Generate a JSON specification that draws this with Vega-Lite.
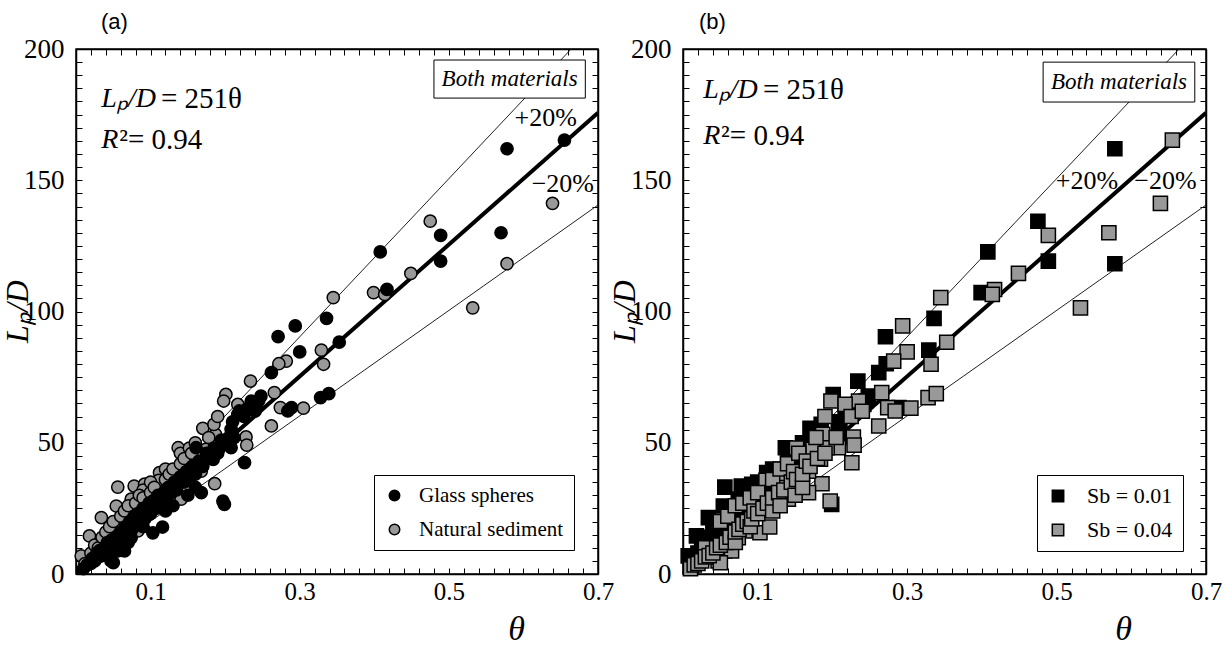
{
  "$schema": "https://vega.github.io/schema/vega-lite/v6.json",
  "background": "white",
  "padding": {"left": 0, "top": 10, "right": 0, "bottom": 0},
  "bounds": "flush",
  "spacing": 85,
  "config": {
    "view": {"stroke": "black", "strokeWidth": 1.5},
    "axis": {"domainColor": "black", "domainWidth": 1.5, "tickColor": "black", "tickWidth": 1, "tickSize": -6, "labelColor": "black", "titleColor": "black", "grid": false}
  },
  "datasets": {
    "pts": [
      {"t":0.578,"L":162.0,"m":"Glass spheres","s":"Sb = 0.01"},
      {"t":0.655,"L":165.3,"m":"Glass spheres","s":"Sb = 0.04"},
      {"t":0.639,"L":141.2,"m":"Natural sediment","s":"Sb = 0.04"},
      {"t":0.475,"L":134.4,"m":"Natural sediment","s":"Sb = 0.01"},
      {"t":0.489,"L":129.0,"m":"Glass spheres","s":"Sb = 0.04"},
      {"t":0.570,"L":130.0,"m":"Glass spheres","s":"Sb = 0.04"},
      {"t":0.489,"L":119.2,"m":"Glass spheres","s":"Sb = 0.01"},
      {"t":0.449,"L":114.5,"m":"Natural sediment","s":"Sb = 0.04"},
      {"t":0.578,"L":118.2,"m":"Natural sediment","s":"Sb = 0.01"},
      {"t":0.532,"L":101.4,"m":"Natural sediment","s":"Sb = 0.04"},
      {"t":0.408,"L":122.7,"m":"Glass spheres","s":"Sb = 0.01"},
      {"t":0.399,"L":107.2,"m":"Natural sediment","s":"Sb = 0.01"},
      {"t":0.417,"L":108.4,"m":"Glass spheres","s":"Sb = 0.04"},
      {"t":0.414,"L":106.5,"m":"Natural sediment","s":"Sb = 0.04"},
      {"t":0.345,"L":105.3,"m":"Natural sediment","s":"Sb = 0.04"},
      {"t":0.336,"L":97.4,"m":"Glass spheres","s":"Sb = 0.01"},
      {"t":0.294,"L":94.5,"m":"Glass spheres","s":"Sb = 0.04"},
      {"t":0.271,"L":90.4,"m":"Glass spheres","s":"Sb = 0.01"},
      {"t":0.300,"L":84.6,"m":"Glass spheres","s":"Sb = 0.04"},
      {"t":0.329,"L":85.3,"m":"Natural sediment","s":"Sb = 0.01"},
      {"t":0.353,"L":88.3,"m":"Glass spheres","s":"Sb = 0.04"},
      {"t":0.332,"L":79.9,"m":"Natural sediment","s":"Sb = 0.04"},
      {"t":0.282,"L":81.1,"m":"Natural sediment","s":"Sb = 0.04"},
      {"t":0.272,"L":80.1,"m":"Natural sediment","s":"Sb = 0.01"},
      {"t":0.262,"L":76.7,"m":"Glass spheres","s":"Sb = 0.01"},
      {"t":0.234,"L":73.5,"m":"Natural sediment","s":"Sb = 0.01"},
      {"t":0.266,"L":69.1,"m":"Natural sediment","s":"Sb = 0.04"},
      {"t":0.248,"L":67.8,"m":"Glass spheres","s":"Sb = 0.01"},
      {"t":0.201,"L":68.4,"m":"Natural sediment","s":"Sb = 0.01"},
      {"t":0.198,"L":65.9,"m":"Natural sediment","s":"Sb = 0.04"},
      {"t":0.235,"L":65.9,"m":"Glass spheres","s":"Sb = 0.04"},
      {"t":0.242,"L":64.6,"m":"Glass spheres","s":"Sb = 0.01"},
      {"t":0.217,"L":64.6,"m":"Natural sediment","s":"Sb = 0.04"},
      {"t":0.219,"L":62.1,"m":"Glass spheres","s":"Sb = 0.01"},
      {"t":0.274,"L":63.4,"m":"Natural sediment","s":"Sb = 0.04"},
      {"t":0.289,"L":63.4,"m":"Glass spheres","s":"Sb = 0.01"},
      {"t":0.284,"L":62.1,"m":"Glass spheres","s":"Sb = 0.04"},
      {"t":0.305,"L":63.2,"m":"Natural sediment","s":"Sb = 0.04"},
      {"t":0.328,"L":67.2,"m":"Glass spheres","s":"Sb = 0.04"},
      {"t":0.339,"L":68.7,"m":"Glass spheres","s":"Sb = 0.04"},
      {"t":0.262,"L":56.4,"m":"Natural sediment","s":"Sb = 0.04"},
      {"t":0.170,"L":55.5,"m":"Natural sediment","s":"Sb = 0.01"},
      {"t":0.187,"L":53.2,"m":"Natural sediment","s":"Sb = 0.04"},
      {"t":0.208,"L":55.1,"m":"Glass spheres","s":"Sb = 0.01"},
      {"t":0.212,"L":51.9,"m":"Glass spheres","s":"Sb = 0.01"},
      {"t":0.228,"L":52.2,"m":"Natural sediment","s":"Sb = 0.04"},
      {"t":0.229,"L":49.1,"m":"Natural sediment","s":"Sb = 0.04"},
      {"t":0.208,"L":48.1,"m":"Glass spheres","s":"Sb = 0.04"},
      {"t":0.226,"L":42.4,"m":"Glass spheres","s":"Sb = 0.04"},
      {"t":0.199,"L":26.5,"m":"Glass spheres","s":"Sb = 0.01"},
      {"t":0.197,"L":27.8,"m":"Glass spheres","s":"Sb = 0.04"},
      {"t":0.186,"L":34.4,"m":"Natural sediment","s":"Sb = 0.04"},
      {"t":0.168,"L":31.0,"m":"Glass spheres","s":"Sb = 0.04"},
      {"t":0.174,"L":47.5,"m":"Natural sediment","s":"Sb = 0.04"},
      {"t":0.137,"L":48.1,"m":"Natural sediment","s":"Sb = 0.01"},
      {"t":0.217,"L":60.8,"m":"Glass spheres","s":"Sb = 0.01"},
      {"t":0.056,"L":33.1,"m":"Natural sediment","s":"Sb = 0.01"},
      {"t":0.034,"L":21.5,"m":"Natural sediment","s":"Sb = 0.01"},
      {"t":0.054,"L":25.9,"m":"Natural sediment","s":"Sb = 0.01"},
      {"t":0.078,"L":33.5,"m":"Natural sediment","s":"Sb = 0.01"},
      {"t":0.092,"L":34.2,"m":"Natural sediment","s":"Sb = 0.01"},
      {"t":0.074,"L":28.5,"m":"Natural sediment","s":"Sb = 0.01"},
      {"t":0.112,"L":38.6,"m":"Natural sediment","s":"Sb = 0.01"},
      {"t":0.141,"L":28.5,"m":"Natural sediment","s":"Sb = 0.04"},
      {"t":0.103,"L":15.7,"m":"Glass spheres","s":"Sb = 0.04"},
      {"t":0.116,"L":17.9,"m":"Glass spheres","s":"Sb = 0.04"},
      {"t":0.018,"L":14.5,"m":"Natural sediment","s":"Sb = 0.01"},
      {"t":0.007,"L":6.9,"m":"Natural sediment","s":"Sb = 0.01"},
      {"t":0.047,"L":5.0,"m":"Glass spheres","s":"Sb = 0.04"},
      {"t":0.056,"L":8.8,"m":"Glass spheres","s":"Sb = 0.04"},
      {"t":0.083,"L":16.4,"m":"Natural sediment","s":"Sb = 0.04"},
      {"t":0.161,"L":48.1,"m":"Glass spheres","s":"Sb = 0.01"},
      {"t":0.184,"L":43.7,"m":"Glass spheres","s":"Sb = 0.04"},
      {"t":0.150,"L":44.3,"m":"Natural sediment","s":"Sb = 0.01"},
      {"t":0.168,"L":39.2,"m":"Natural sediment","s":"Sb = 0.04"},
      {"t":0.111,"L":35.7,"m":"Natural sediment","s":"Sb = 0.04"},
      {"t":0.129,"L":36.1,"m":"Natural sediment","s":"Sb = 0.04"},
      {"t":0.130,"L":32.9,"m":"Natural sediment","s":"Sb = 0.04"},
      {"t":0.193,"L":48.1,"m":"Glass spheres","s":"Sb = 0.04"},
      {"t":0.074,"L":13.8,"m":"Glass spheres","s":"Sb = 0.04"},
      {"t":0.065,"L":8.8,"m":"Glass spheres","s":"Sb = 0.04"},
      {"t":0.050,"L":4.3,"m":"Glass spheres","s":"Sb = 0.04"},
      {"t":0.090,"L":32,"m":"Natural sediment","s":"Sb = 0.01"},
      {"t":0.100,"L":35,"m":"Natural sediment","s":"Sb = 0.01"},
      {"t":0.120,"L":40,"m":"Natural sediment","s":"Sb = 0.01"},
      {"t":0.140,"L":46,"m":"Natural sediment","s":"Sb = 0.01"},
      {"t":0.152,"L":48,"m":"Natural sediment","s":"Sb = 0.04"},
      {"t":0.012,"L":4,"m":"Natural sediment","s":"Sb = 0.01"},
      {"t":0.020,"L":8,"m":"Natural sediment","s":"Sb = 0.01"},
      {"t":0.025,"L":11,"m":"Natural sediment","s":"Sb = 0.01"},
      {"t":0.030,"L":10,"m":"Natural sediment","s":"Sb = 0.04"},
      {"t":0.035,"L":14,"m":"Natural sediment","s":"Sb = 0.01"},
      {"t":0.040,"L":16,"m":"Natural sediment","s":"Sb = 0.01"},
      {"t":0.045,"L":18,"m":"Natural sediment","s":"Sb = 0.01"},
      {"t":0.050,"L":20,"m":"Natural sediment","s":"Sb = 0.04"},
      {"t":0.060,"L":22,"m":"Natural sediment","s":"Sb = 0.04"},
      {"t":0.065,"L":24,"m":"Natural sediment","s":"Sb = 0.01"},
      {"t":0.070,"L":26,"m":"Natural sediment","s":"Sb = 0.04"},
      {"t":0.080,"L":27,"m":"Natural sediment","s":"Sb = 0.04"},
      {"t":0.085,"L":30,"m":"Natural sediment","s":"Sb = 0.01"},
      {"t":0.090,"L":29,"m":"Natural sediment","s":"Sb = 0.04"},
      {"t":0.100,"L":31,"m":"Natural sediment","s":"Sb = 0.04"},
      {"t":0.105,"L":33,"m":"Natural sediment","s":"Sb = 0.01"},
      {"t":0.120,"L":36,"m":"Natural sediment","s":"Sb = 0.04"},
      {"t":0.125,"L":38,"m":"Natural sediment","s":"Sb = 0.01"},
      {"t":0.130,"L":40,"m":"Natural sediment","s":"Sb = 0.04"},
      {"t":0.140,"L":42,"m":"Natural sediment","s":"Sb = 0.04"},
      {"t":0.145,"L":44,"m":"Natural sediment","s":"Sb = 0.01"},
      {"t":0.155,"L":46,"m":"Natural sediment","s":"Sb = 0.04"},
      {"t":0.160,"L":50,"m":"Natural sediment","s":"Sb = 0.01"},
      {"t":0.178,"L":52,"m":"Natural sediment","s":"Sb = 0.04"},
      {"t":0.185,"L":57,"m":"Natural sediment","s":"Sb = 0.01"},
      {"t":0.190,"L":60,"m":"Natural sediment","s":"Sb = 0.04"},
      {"t":0.010,"L":2,"m":"Glass spheres","s":"Sb = 0.04"},
      {"t":0.015,"L":3.5,"m":"Glass spheres","s":"Sb = 0.04"},
      {"t":0.020,"L":4,"m":"Glass spheres","s":"Sb = 0.04"},
      {"t":0.022,"L":6,"m":"Glass spheres","s":"Sb = 0.01"},
      {"t":0.025,"L":5,"m":"Glass spheres","s":"Sb = 0.04"},
      {"t":0.028,"L":8,"m":"Glass spheres","s":"Sb = 0.01"},
      {"t":0.030,"L":6.5,"m":"Glass spheres","s":"Sb = 0.04"},
      {"t":0.032,"L":9,"m":"Glass spheres","s":"Sb = 0.01"},
      {"t":0.035,"L":7,"m":"Glass spheres","s":"Sb = 0.04"},
      {"t":0.038,"L":10,"m":"Glass spheres","s":"Sb = 0.01"},
      {"t":0.040,"L":8,"m":"Glass spheres","s":"Sb = 0.04"},
      {"t":0.042,"L":12,"m":"Glass spheres","s":"Sb = 0.01"},
      {"t":0.045,"L":10,"m":"Glass spheres","s":"Sb = 0.04"},
      {"t":0.048,"L":13,"m":"Glass spheres","s":"Sb = 0.01"},
      {"t":0.050,"L":11,"m":"Glass spheres","s":"Sb = 0.04"},
      {"t":0.055,"L":14,"m":"Glass spheres","s":"Sb = 0.01"},
      {"t":0.058,"L":12,"m":"Glass spheres","s":"Sb = 0.04"},
      {"t":0.060,"L":16,"m":"Glass spheres","s":"Sb = 0.01"},
      {"t":0.063,"L":14,"m":"Glass spheres","s":"Sb = 0.04"},
      {"t":0.066,"L":18,"m":"Glass spheres","s":"Sb = 0.01"},
      {"t":0.070,"L":12,"m":"Glass spheres","s":"Sb = 0.04"},
      {"t":0.070,"L":16,"m":"Glass spheres","s":"Sb = 0.04"},
      {"t":0.072,"L":20,"m":"Glass spheres","s":"Sb = 0.01"},
      {"t":0.075,"L":17,"m":"Glass spheres","s":"Sb = 0.04"},
      {"t":0.078,"L":22,"m":"Glass spheres","s":"Sb = 0.01"},
      {"t":0.080,"L":19,"m":"Glass spheres","s":"Sb = 0.04"},
      {"t":0.083,"L":23,"m":"Glass spheres","s":"Sb = 0.01"},
      {"t":0.086,"L":20,"m":"Glass spheres","s":"Sb = 0.04"},
      {"t":0.090,"L":18,"m":"Glass spheres","s":"Sb = 0.04"},
      {"t":0.090,"L":25,"m":"Glass spheres","s":"Sb = 0.01"},
      {"t":0.092,"L":21,"m":"Glass spheres","s":"Sb = 0.04"},
      {"t":0.095,"L":24,"m":"Glass spheres","s":"Sb = 0.04"},
      {"t":0.098,"L":27,"m":"Glass spheres","s":"Sb = 0.01"},
      {"t":0.100,"L":23,"m":"Glass spheres","s":"Sb = 0.04"},
      {"t":0.104,"L":28,"m":"Glass spheres","s":"Sb = 0.01"},
      {"t":0.107,"L":25,"m":"Glass spheres","s":"Sb = 0.04"},
      {"t":0.110,"L":30,"m":"Glass spheres","s":"Sb = 0.01"},
      {"t":0.113,"L":27,"m":"Glass spheres","s":"Sb = 0.04"},
      {"t":0.118,"L":31,"m":"Glass spheres","s":"Sb = 0.01"},
      {"t":0.120,"L":24,"m":"Glass spheres","s":"Sb = 0.04"},
      {"t":0.120,"L":29,"m":"Glass spheres","s":"Sb = 0.04"},
      {"t":0.124,"L":33,"m":"Glass spheres","s":"Sb = 0.01"},
      {"t":0.128,"L":31,"m":"Glass spheres","s":"Sb = 0.04"},
      {"t":0.130,"L":26,"m":"Glass spheres","s":"Sb = 0.04"},
      {"t":0.132,"L":35,"m":"Glass spheres","s":"Sb = 0.01"},
      {"t":0.135,"L":32,"m":"Glass spheres","s":"Sb = 0.04"},
      {"t":0.140,"L":37,"m":"Glass spheres","s":"Sb = 0.01"},
      {"t":0.145,"L":35,"m":"Glass spheres","s":"Sb = 0.04"},
      {"t":0.148,"L":39,"m":"Glass spheres","s":"Sb = 0.04"},
      {"t":0.150,"L":30,"m":"Glass spheres","s":"Sb = 0.04"},
      {"t":0.152,"L":36,"m":"Glass spheres","s":"Sb = 0.04"},
      {"t":0.156,"L":41,"m":"Glass spheres","s":"Sb = 0.01"},
      {"t":0.160,"L":33,"m":"Glass spheres","s":"Sb = 0.04"},
      {"t":0.160,"L":38,"m":"Glass spheres","s":"Sb = 0.04"},
      {"t":0.165,"L":43,"m":"Glass spheres","s":"Sb = 0.04"},
      {"t":0.170,"L":41,"m":"Glass spheres","s":"Sb = 0.04"},
      {"t":0.175,"L":46,"m":"Glass spheres","s":"Sb = 0.01"},
      {"t":0.180,"L":44,"m":"Glass spheres","s":"Sb = 0.04"},
      {"t":0.185,"L":48,"m":"Glass spheres","s":"Sb = 0.01"},
      {"t":0.190,"L":46,"m":"Glass spheres","s":"Sb = 0.04"},
      {"t":0.195,"L":51,"m":"Glass spheres","s":"Sb = 0.01"},
      {"t":0.205,"L":52,"m":"Glass spheres","s":"Sb = 0.04"},
      {"t":0.210,"L":58,"m":"Glass spheres","s":"Sb = 0.01"},
      {"t":0.225,"L":60,"m":"Glass spheres","s":"Sb = 0.04"},
      {"t":0.230,"L":63,"m":"Glass spheres","s":"Sb = 0.01"},
      {"t":0.240,"L":62,"m":"Glass spheres","s":"Sb = 0.04"},
      {"t":0.245,"L":66,"m":"Glass spheres","s":"Sb = 0.01"}
    ],
    "lines": [
      {"k":"fit","t":0,"L":0},{"k":"fit","t":0.7,"L":175.7},
      {"k":"+20%","t":0,"L":0},{"k":"+20%","t":0.7,"L":210.84},
      {"k":"-20%","t":0,"L":0},{"k":"-20%","t":0.7,"L":140.56}
    ]
  },
  "resolve": {"scale": {"x": "independent", "y": "independent", "fill": "independent"}, "legend": {"fill": "independent"}},
  "hconcat": [
    {
      "width": 522, "height": 525,
      "title": {"text": "(a)", "anchor": "start", "frame": "group", "dx": 25, "offset": 1, "font": "Liberation Sans", "fontSize": 22, "fontWeight": "normal", "color": "black"},
      "resolve": {"axis": {"x": "independent", "y": "independent"}},
      "layer": [
        {
          "data": {"name": "lines"},
          "transform": [{"filter": "datum.k != 'fit'"}],
          "mark": {"type": "line", "clip": true, "color": "#222222", "strokeWidth": 1},
          "encoding": {
            "x": {"field": "t", "type": "quantitative", "scale": {"domain": [0, 0.7], "nice": false, "zero": false},
              "axis": {"orient": "top", "values": [0,0.02,0.04,0.06,0.08,0.1,0.12,0.14,0.16,0.18,0.2,0.22,0.24,0.26,0.28,0.3,0.32,0.34,0.36,0.38,0.4,0.42,0.44,0.46,0.48,0.5,0.52,0.54,0.56,0.58,0.6,0.62,0.64,0.66,0.68,0.7], "labels": false, "title": null}},
            "y": {"field": "L", "type": "quantitative", "scale": {"domain": [0, 200], "nice": false, "zero": false},
              "axis": {"orient": "right", "values": [0,5,10,15,20,25,30,35,40,45,50,55,60,65,70,75,80,85,90,95,100,105,110,115,120,125,130,135,140,145,150,155,160,165,170,175,180,185,190,195,200], "labels": false, "title": null}},
            "detail": {"field": "k"}
          }
        },
        {
          "data": {"name": "lines"},
          "transform": [{"filter": "datum.k == 'fit'"}],
          "mark": {"type": "line", "clip": true, "color": "black", "strokeWidth": 4},
          "encoding": {
            "x": {"field": "t", "type": "quantitative", "scale": {"domain": [0, 0.7], "nice": false, "zero": false}, "axis": null},
            "y": {"field": "L", "type": "quantitative", "scale": {"domain": [0, 200], "nice": false, "zero": false}, "axis": null}
          }
        },
        {
          "data": {"name": "pts"},
          "mark": {"type": "point", "shape": "circle", "filled": true, "size": 150, "stroke": "black", "strokeWidth": 1.5, "opacity": 1},
          "encoding": {
            "x": {"field": "t", "type": "quantitative", "scale": {"domain": [0, 0.7], "nice": false, "zero": false},
              "axis": {"orient": "bottom", "values": [0,0.02,0.04,0.06,0.08,0.1,0.12,0.14,0.16,0.18,0.2,0.22,0.24,0.26,0.28,0.3,0.32,0.34,0.36,0.38,0.4,0.42,0.44,0.46,0.48,0.5,0.52,0.54,0.56,0.58,0.6,0.62,0.64,0.66,0.68,0.7],
                "labelExpr": "round(datum.value*50) % 10 == 5 ? format(datum.value, '.1f') : ''", "labelFont": "Liberation Serif", "labelFontSize": 25, "labelPadding": 11, "labelFlush": false, "labelOverlap": false,
                "title": "θ", "titleFont": "Liberation Serif", "titleFontStyle": "italic", "titleFontWeight": "normal", "titleFontSize": 34, "titleX": 440, "titleY": 65, "titleAlign": "center", "titleBaseline": "alphabetic"}},
            "y": {"field": "L", "type": "quantitative", "scale": {"domain": [0, 200], "nice": false, "zero": false},
              "axis": {"orient": "left", "values": [0,5,10,15,20,25,30,35,40,45,50,55,60,65,70,75,80,85,90,95,100,105,110,115,120,125,130,135,140,145,150,155,160,165,170,175,180,185,190,195,200],
                "labelExpr": "datum.value % 50 == 0 ? datum.value : ''", "labelFont": "Liberation Serif", "labelFontSize": 27, "labelPadding": 18, "labelFlush": false, "labelOverlap": false,
                "title": "Lₚ/D", "titleFont": "Liberation Serif", "titleFontStyle": "italic", "titleFontWeight": "normal", "titleFontSize": 32, "titleX": -49, "titleY": 262, "titleAngle": -90, "titleAlign": "center", "titleBaseline": "alphabetic"}},
            "fill": {"field": "m", "type": "nominal", "scale": {"domain": ["Glass spheres", "Natural sediment"], "range": ["#000000", "#999999"]},
              "legend": {"orient": "bottom-right", "offset": 24, "title": null, "strokeColor": "black", "fillColor": "white", "padding": 10, "rowPadding": 12, "labelFont": "Liberation Serif", "labelFontSize": 21, "labelColor": "black", "labelOffset": 14, "symbolType": "circle", "symbolSize": 110, "symbolStrokeColor": "black", "symbolStrokeWidth": 1.5}},
            "order": {"field": "m", "sort": "descending"}
          }
        },
        {
          "data": {"values": [{"t1": 0.48, "t2": 0.683, "L1": 181.3, "L2": 195.8}]},
          "mark": {"type": "rect", "fill": "white", "stroke": "black", "strokeWidth": 1},
          "encoding": {
            "x": {"field": "t1", "type": "quantitative", "scale": {"domain": [0, 0.7], "nice": false, "zero": false}, "axis": null},
            "x2": {"field": "t2"},
            "y": {"field": "L1", "type": "quantitative", "scale": {"domain": [0, 200], "nice": false, "zero": false}, "axis": null},
            "y2": {"field": "L2"}
          }
        },
        {
          "data": {"values": [{"t": 0.5815, "L": 188.5, "txt": "Both materials"}]},
          "mark": {"type": "text", "font": "Liberation Serif", "fontStyle": "italic", "fontSize": 23, "align": "center", "baseline": "middle", "color": "black"},
          "encoding": {
            "x": {"field": "t", "type": "quantitative", "scale": {"domain": [0, 0.7], "nice": false, "zero": false}, "axis": null},
            "y": {"field": "L", "type": "quantitative", "scale": {"domain": [0, 200], "nice": false, "zero": false}, "axis": null},
            "text": {"field": "txt"}
          }
        },
        {
          "data": {"values": [{"t": 0.034, "L": 181, "txt": "Lₚ/D"}, {"t": 0.034, "L": 165.3, "txt": "R"}]},
          "mark": {"type": "text", "font": "Liberation Serif", "fontStyle": "italic", "fontSize": 28, "align": "left", "baseline": "middle", "color": "black"},
          "encoding": {
            "x": {"field": "t", "type": "quantitative", "scale": {"domain": [0, 0.7], "nice": false, "zero": false}, "axis": null},
            "y": {"field": "L", "type": "quantitative", "scale": {"domain": [0, 200], "nice": false, "zero": false}, "axis": null},
            "text": {"field": "txt"}
          }
        },
        {
          "data": {"values": [{"t": 0.114, "L": 181, "txt": "= 251θ"}, {"t": 0.058, "L": 165.3, "txt": "²= 0.94"}]},
          "mark": {"type": "text", "font": "Liberation Serif", "fontSize": 29, "align": "left", "baseline": "middle", "color": "black"},
          "encoding": {
            "x": {"field": "t", "type": "quantitative", "scale": {"domain": [0, 0.7], "nice": false, "zero": false}, "axis": null},
            "y": {"field": "L", "type": "quantitative", "scale": {"domain": [0, 200], "nice": false, "zero": false}, "axis": null},
            "text": {"field": "txt"}
          }
        },
        {
          "data": {"values": [{"t": 0.588, "L": 173.7, "txt": "+20%"}, {"t": 0.611, "L": 148.6, "txt": "−20%"}]},
          "mark": {"type": "text", "font": "Liberation Serif", "fontSize": 26, "align": "left", "baseline": "middle", "color": "black"},
          "encoding": {
            "x": {"field": "t", "type": "quantitative", "scale": {"domain": [0, 0.7], "nice": false, "zero": false}, "axis": null},
            "y": {"field": "L", "type": "quantitative", "scale": {"domain": [0, 200], "nice": false, "zero": false}, "axis": null},
            "text": {"field": "txt"}
          }
        }
      ]
    },
    {
      "width": 523, "height": 525,
      "title": {"text": "(b)", "anchor": "start", "frame": "group", "dx": 16, "offset": 1, "font": "Liberation Sans", "fontSize": 22, "fontWeight": "normal", "color": "black"},
      "resolve": {"axis": {"x": "independent", "y": "independent"}},
      "layer": [
        {
          "data": {"name": "lines"},
          "transform": [{"filter": "datum.k != 'fit'"}],
          "mark": {"type": "line", "clip": true, "color": "#222222", "strokeWidth": 1},
          "encoding": {
            "x": {"field": "t", "type": "quantitative", "scale": {"domain": [0, 0.7], "nice": false, "zero": false},
              "axis": {"orient": "top", "values": [0,0.02,0.04,0.06,0.08,0.1,0.12,0.14,0.16,0.18,0.2,0.22,0.24,0.26,0.28,0.3,0.32,0.34,0.36,0.38,0.4,0.42,0.44,0.46,0.48,0.5,0.52,0.54,0.56,0.58,0.6,0.62,0.64,0.66,0.68,0.7], "labels": false, "title": null}},
            "y": {"field": "L", "type": "quantitative", "scale": {"domain": [0, 200], "nice": false, "zero": false},
              "axis": {"orient": "right", "values": [0,5,10,15,20,25,30,35,40,45,50,55,60,65,70,75,80,85,90,95,100,105,110,115,120,125,130,135,140,145,150,155,160,165,170,175,180,185,190,195,200], "labels": false, "title": null}},
            "detail": {"field": "k"}
          }
        },
        {
          "data": {"name": "lines"},
          "transform": [{"filter": "datum.k == 'fit'"}],
          "mark": {"type": "line", "clip": true, "color": "black", "strokeWidth": 4},
          "encoding": {
            "x": {"field": "t", "type": "quantitative", "scale": {"domain": [0, 0.7], "nice": false, "zero": false}, "axis": null},
            "y": {"field": "L", "type": "quantitative", "scale": {"domain": [0, 200], "nice": false, "zero": false}, "axis": null}
          }
        },
        {
          "data": {"name": "pts"},
          "mark": {"type": "point", "shape": "square", "filled": true, "size": 200, "stroke": "black", "strokeWidth": 1.5, "opacity": 1},
          "encoding": {
            "x": {"field": "t", "type": "quantitative", "scale": {"domain": [0, 0.7], "nice": false, "zero": false},
              "axis": {"orient": "bottom", "values": [0,0.02,0.04,0.06,0.08,0.1,0.12,0.14,0.16,0.18,0.2,0.22,0.24,0.26,0.28,0.3,0.32,0.34,0.36,0.38,0.4,0.42,0.44,0.46,0.48,0.5,0.52,0.54,0.56,0.58,0.6,0.62,0.64,0.66,0.68,0.7],
                "labelExpr": "round(datum.value*50) % 10 == 5 ? format(datum.value, '.1f') : ''", "labelFont": "Liberation Serif", "labelFontSize": 25, "labelPadding": 11, "labelFlush": false, "labelOverlap": false,
                "title": "θ", "titleFont": "Liberation Serif", "titleFontStyle": "italic", "titleFontWeight": "normal", "titleFontSize": 34, "titleX": 440, "titleY": 65, "titleAlign": "center", "titleBaseline": "alphabetic"}},
            "y": {"field": "L", "type": "quantitative", "scale": {"domain": [0, 200], "nice": false, "zero": false},
              "axis": {"orient": "left", "values": [0,5,10,15,20,25,30,35,40,45,50,55,60,65,70,75,80,85,90,95,100,105,110,115,120,125,130,135,140,145,150,155,160,165,170,175,180,185,190,195,200],
                "labelExpr": "datum.value % 50 == 0 ? datum.value : ''", "labelFont": "Liberation Serif", "labelFontSize": 27, "labelPadding": 18, "labelFlush": false, "labelOverlap": false,
                "title": "Lₚ/D", "titleFont": "Liberation Serif", "titleFontStyle": "italic", "titleFontWeight": "normal", "titleFontSize": 32, "titleX": -49, "titleY": 262, "titleAngle": -90, "titleAlign": "center", "titleBaseline": "alphabetic"}},
            "fill": {"field": "s", "type": "nominal", "scale": {"domain": ["Sb = 0.01", "Sb = 0.04"], "range": ["#000000", "#999999"]},
              "legend": {"orient": "bottom-right", "offset": 23, "title": null, "strokeColor": "black", "fillColor": "white", "padding": 10, "rowPadding": 12, "labelFont": "Liberation Serif", "labelFontSize": 22, "labelColor": "black", "labelOffset": 18, "symbolType": "square", "symbolSize": 130, "symbolStrokeColor": "black", "symbolStrokeWidth": 1.5}},
            "order": {"field": "s", "sort": "ascending"}
          }
        },
        {
          "data": {"values": [{"t1": 0.482, "t2": 0.685, "L1": 179.8, "L2": 195}]},
          "mark": {"type": "rect", "fill": "white", "stroke": "black", "strokeWidth": 1},
          "encoding": {
            "x": {"field": "t1", "type": "quantitative", "scale": {"domain": [0, 0.7], "nice": false, "zero": false}, "axis": null},
            "x2": {"field": "t2"},
            "y": {"field": "L1", "type": "quantitative", "scale": {"domain": [0, 200], "nice": false, "zero": false}, "axis": null},
            "y2": {"field": "L2"}
          }
        },
        {
          "data": {"values": [{"t": 0.5835, "L": 187.4, "txt": "Both materials"}]},
          "mark": {"type": "text", "font": "Liberation Serif", "fontStyle": "italic", "fontSize": 23, "align": "center", "baseline": "middle", "color": "black"},
          "encoding": {
            "x": {"field": "t", "type": "quantitative", "scale": {"domain": [0, 0.7], "nice": false, "zero": false}, "axis": null},
            "y": {"field": "L", "type": "quantitative", "scale": {"domain": [0, 200], "nice": false, "zero": false}, "axis": null},
            "text": {"field": "txt"}
          }
        },
        {
          "data": {"values": [{"t": 0.027, "L": 184.2, "txt": "Lₚ/D"}, {"t": 0.027, "L": 166.9, "txt": "R"}]},
          "mark": {"type": "text", "font": "Liberation Serif", "fontStyle": "italic", "fontSize": 28, "align": "left", "baseline": "middle", "color": "black"},
          "encoding": {
            "x": {"field": "t", "type": "quantitative", "scale": {"domain": [0, 0.7], "nice": false, "zero": false}, "axis": null},
            "y": {"field": "L", "type": "quantitative", "scale": {"domain": [0, 200], "nice": false, "zero": false}, "axis": null},
            "text": {"field": "txt"}
          }
        },
        {
          "data": {"values": [{"t": 0.107, "L": 184.2, "txt": "= 251θ"}, {"t": 0.051, "L": 166.9, "txt": "²= 0.94"}]},
          "mark": {"type": "text", "font": "Liberation Serif", "fontSize": 29, "align": "left", "baseline": "middle", "color": "black"},
          "encoding": {
            "x": {"field": "t", "type": "quantitative", "scale": {"domain": [0, 0.7], "nice": false, "zero": false}, "axis": null},
            "y": {"field": "L", "type": "quantitative", "scale": {"domain": [0, 200], "nice": false, "zero": false}, "axis": null},
            "text": {"field": "txt"}
          }
        },
        {
          "data": {"values": [{"t": 0.499, "L": 149.7, "txt": "+20%"}, {"t": 0.604, "L": 149.7, "txt": "−20%"}]},
          "mark": {"type": "text", "font": "Liberation Serif", "fontSize": 26, "align": "left", "baseline": "middle", "color": "black"},
          "encoding": {
            "x": {"field": "t", "type": "quantitative", "scale": {"domain": [0, 0.7], "nice": false, "zero": false}, "axis": null},
            "y": {"field": "L", "type": "quantitative", "scale": {"domain": [0, 200], "nice": false, "zero": false}, "axis": null},
            "text": {"field": "txt"}
          }
        }
      ]
    }
  ]
}
